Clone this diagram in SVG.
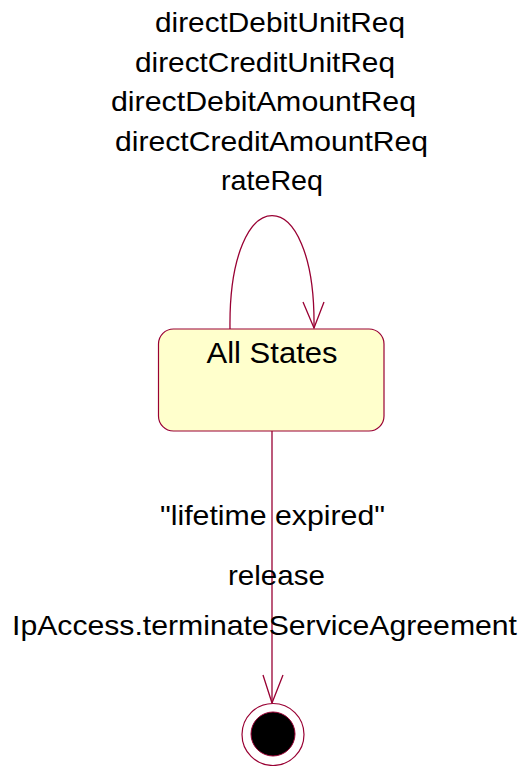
<svg xmlns="http://www.w3.org/2000/svg" width="523" height="766" viewBox="0 0 523 766">
<style>
.lbl{font-family:"Liberation Sans",Arial,sans-serif;fill:#000;font-size:28px}
.edge{fill:none;stroke:#990033;stroke-width:1.3}
.state{fill:#FFFFCC;stroke:#990033;stroke-width:1.2}
</style>
<rect width="523" height="766" fill="#fff"/>
<g id="connectors">
  <path class="edge" d="M230,329 C228,178 316,178 314,328"/>
  <polyline class="edge" points="303,302 314,328 324,302"/>
  <line class="edge" x1="272" y1="431" x2="272" y2="703"/>
  <polyline class="edge" points="263,675 272,703 283,675"/>
</g>
<g id="loop-labels">
  <text class="lbl" x="155" y="32" textLength="250" lengthAdjust="spacingAndGlyphs">directDebitUnitReq</text>
  <text class="lbl" x="135" y="71.5" textLength="260" lengthAdjust="spacingAndGlyphs">directCreditUnitReq</text>
  <text class="lbl" x="111" y="111" textLength="305" lengthAdjust="spacingAndGlyphs">directDebitAmountReq</text>
  <text class="lbl" x="115" y="150.5" textLength="313" lengthAdjust="spacingAndGlyphs">directCreditAmountReq</text>
  <text class="lbl" x="221" y="190" textLength="102" lengthAdjust="spacingAndGlyphs">rateReq</text>
</g>
<g id="exit-labels">
  <text class="lbl" x="160" y="525" textLength="225" lengthAdjust="spacingAndGlyphs">"lifetime expired"</text>
  <text class="lbl" x="228" y="585" textLength="97" lengthAdjust="spacingAndGlyphs">release</text>
  <text class="lbl" x="12" y="635" textLength="505" lengthAdjust="spacingAndGlyphs">IpAccess.terminateServiceAgreement</text>
</g>
<g id="all-states">
  <rect class="state" x="158.5" y="329" width="225.5" height="102" rx="15" ry="15"/>
  <text class="lbl" x="272" y="363" style="font-size:29px" text-anchor="middle" textLength="131" lengthAdjust="spacingAndGlyphs">All States</text>
</g>
<g id="final-state">
  <circle cx="273" cy="734.5" r="31" fill="#fff" stroke="#990033" stroke-width="1.2"/>
  <circle cx="273" cy="734" r="22" fill="#000" stroke="#990033" stroke-width="1"/>
</g>
</svg>
